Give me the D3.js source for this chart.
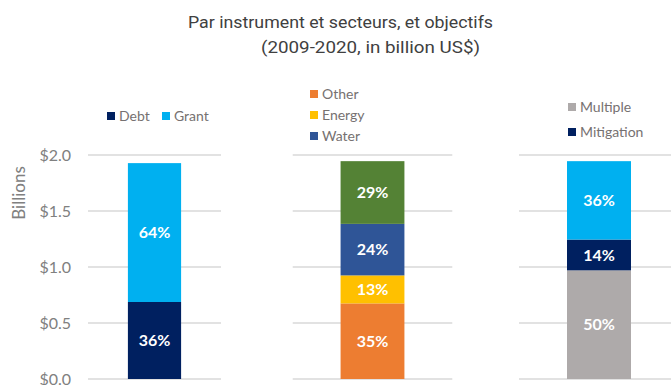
<!DOCTYPE html>
<html>
<head>
<meta charset="utf-8">
<script src="https://cdn.jsdelivr.net/npm/d3@7"></script>
<style>
  html, body { margin: 0; padding: 0; background: #fff; }
  svg { display: block; }
</style>
</head>
<body>
<svg id="chart" width="671" height="385"></svg>
<script>
// Climate finance 2009-2020, billion US$, split three ways.
const instrumentKeys = ["Debt", "Grant"];
const instrumentValues = [0.6875, 1.24];

const sectorKeys = ["Other", "Energy", "Water", "Multi-sector"];
const sectorValues = [0.675, 0.25, 0.46, 0.56];

const objectiveKeys = ["Multiple", "Mitigation", "Adaptation"];
const objectiveValues = [0.97, 0.275, 0.70];

const yTicks = [0, 0.5, 1.0, 1.5, 2.0];

const titleLines = ["Par instrument et secteurs, et objectifs", "(2009-2020, in billion US$)"];
const yAxisTitle = "Billions";

const instrumentLegend = ["Debt", "Grant"];
const sectorLegend = ["Other", "Energy", "Water"];
const objectiveLegend = ["Multiple", "Mitigation"];

const colors = {
  "Debt": "#002060", "Grant": "#00B0F0",
  "Other": "#ED7D31", "Energy": "#FFC000", "Water": "#2F5597", "Multi-sector": "#548235",
  "Multiple": "#AEAAAA", "Mitigation": "#002060", "Adaptation": "#00B0F0"
};

const svg = d3.select("#chart");
const labelFont = "Lato, 'Open Sans', sans-serif";
const titleFont = "Roboto, 'Liberation Sans', sans-serif";

// Title, two lines
svg.append("text")
  .attr("x", 188).attr("y", 28)
  .attr("font-family", titleFont)
  .attr("font-size", 16.5).attr("fill", "#404040")
  .attr("textLength", 305).attr("lengthAdjust", "spacingAndGlyphs")
  .text(titleLines[0]);
svg.append("text")
  .attr("x", 261).attr("y", 53)
  .attr("font-family", titleFont)
  .attr("font-size", 16.5).attr("fill", "#404040")
  .attr("textLength", 219).attr("lengthAdjust", "spacingAndGlyphs")
  .text(titleLines[1]);

// Shared value scale
const y = d3.scaleLinear().domain([0, 2]).range([379, 155]);

const panels = [
  { name: "instrument", keys: instrumentKeys, values: instrumentValues, range: [88, 221] },
  { name: "sector", keys: sectorKeys, values: sectorValues, range: [292.7, 452.3] },
  { name: "objective", keys: objectiveKeys, values: objectiveValues, range: [519, 679] }
];

panels.forEach(p => {
  const g = svg.append("g");
  const x = d3.scaleBand().domain([p.name]).range(p.range)
    .paddingInner(0).paddingOuter(0.75);

  // gridlines
  g.selectAll("line.grid").data(yTicks).join("line")
    .attr("x1", p.range[0]).attr("x2", p.range[1])
    .attr("y1", d => y(d)).attr("y2", d => y(d))
    .attr("stroke", "#D9D9D9").attr("stroke-width", 1.5);

  const row = { cat: p.name };
  p.keys.forEach((k, i) => row[k] = p.values[i]);
  const total = d3.sum(p.values);
  const stacked = d3.stack().keys(p.keys)([row]);

  const seg = g.selectAll("g.seg").data(stacked).join("g");
  seg.append("rect")
    .attr("x", x(p.name))
    .attr("width", x.bandwidth())
    .attr("y", d => y(d[0][1]))
    .attr("height", d => y(d[0][0]) - y(d[0][1]))
    .attr("fill", d => colors[d.key]);
  seg.append("text")
    .attr("x", x(p.name) + x.bandwidth() / 2)
    .attr("y", d => (y(d[0][0]) + y(d[0][1])) / 2)
    .attr("dy", "0.36em")
    .attr("text-anchor", "middle")
    .attr("font-family", labelFont).attr("font-weight", "bold")
    .attr("font-size", 16).attr("fill", "#fff")
    .text(d => d3.format(".0%")((d[0][1] - d[0][0]) / total));
});

// Y axis (labels only)
const yAxis = d3.axisLeft(y).tickValues(yTicks)
  .tickFormat(d => "$" + d3.format(".1f")(d))
  .tickSize(0).tickPadding(0);
const ag = svg.append("g").attr("transform", "translate(71,0)").call(yAxis);
ag.select(".domain").remove();
ag.selectAll("text")
  .attr("font-family", labelFont).attr("font-size", 16).attr("fill", "#808080");

svg.append("text")
  .attr("transform", "translate(25,193) rotate(-90)")
  .attr("text-anchor", "middle")
  .attr("font-family", labelFont).attr("font-size", 17).attr("fill", "#808080")
  .text(yAxisTitle);

// Legends
function legendItem(x, yc, key) {
  const g = svg.append("g");
  g.append("rect").attr("x", x).attr("y", yc - 4).attr("width", 8).attr("height", 8)
    .attr("fill", colors[key]);
  g.append("text").attr("x", x + 12).attr("y", yc).attr("dy", "0.35em")
    .attr("font-family", labelFont).attr("font-size", 14).attr("fill", "#767171")
    .text(key);
}
const instX = [107, 162];
instrumentLegend.forEach((k, i) => legendItem(instX[i], 116, k));
sectorLegend.forEach((k, i) => legendItem(310, 94 + i * 21, k));
objectiveLegend.forEach((k, i) => legendItem(568, 107 + i * 25, k));
</script>
</body>
</html>
